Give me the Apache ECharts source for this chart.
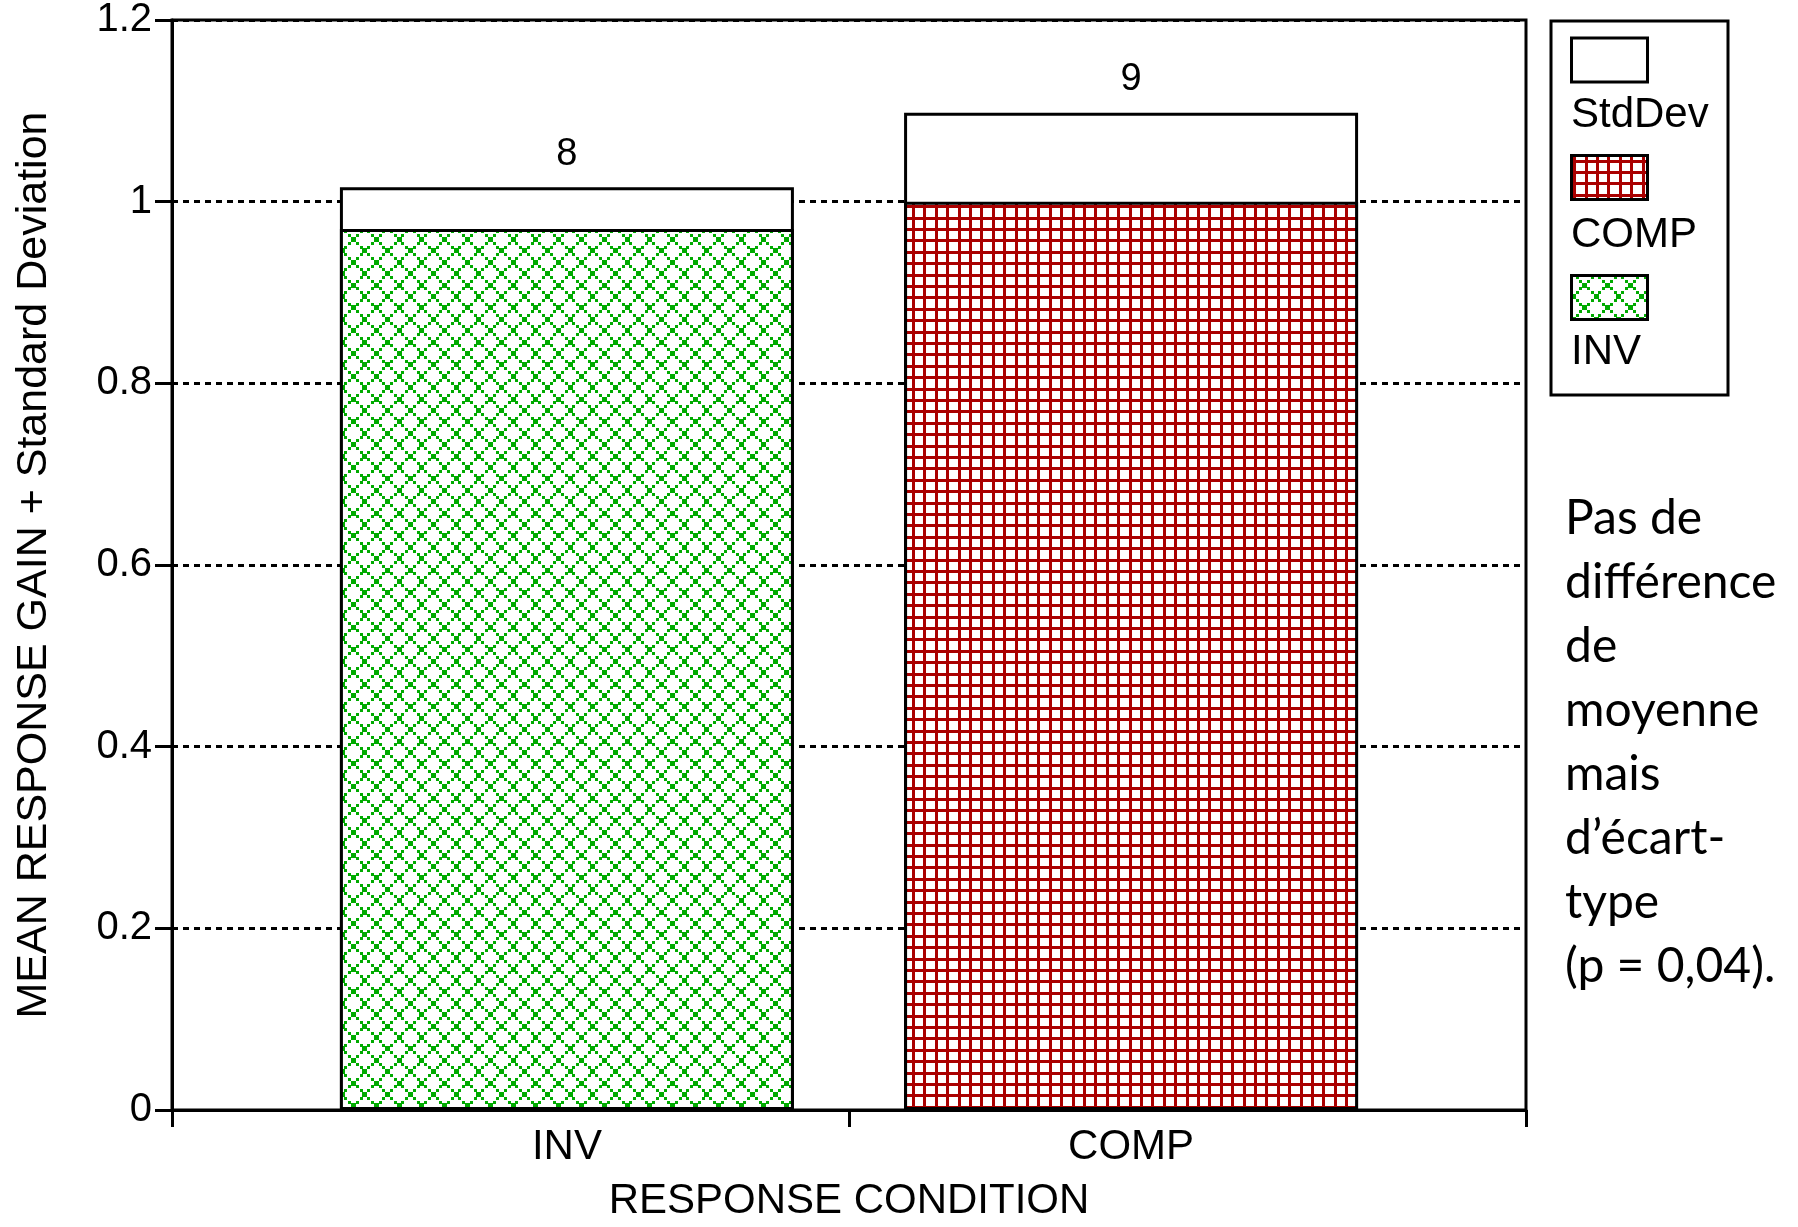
<!DOCTYPE html>
<html>
<head>
<meta charset="utf-8">
<script src="https://cdn.jsdelivr.net/npm/echarts@6/dist/echarts.min.js"></script>
<style>
  html, body { margin: 0; padding: 0; background: #fff; }
  #chart { width: 1798px; height: 1227px; }
</style>
</head>
<body>
<div id="chart"></div>
<script>
// Response conditions and their position on the x scale
const categories = ['INV', 'COMP'];
const categoryPositions = [1, 2];
// Mean response gain and its standard deviation, per condition
const meanGain = [0.97, 1.0];
const stdDev = [0.046, 0.098];
// Number of subjects per condition (printed above each bar)
const sampleSizes = [8, 9];
// Value axis ticks
const yTicks = [0, 0.2, 0.4, 0.6, 0.8, 1, 1.2];
// Ticks along the condition axis (range ends and the divider between conditions)
const xTickPositions = [0.3, 1.5, 2.7];
const legendNames = ['StdDev', 'COMP', 'INV'];
const noteLines = ['Pas de', 'différence', 'de', 'moyenne', 'mais', 'd’écart-', 'type', '(p = 0,04).'];

const CHART_FONT = '"Liberation Sans", Arial, sans-serif';
const RED = '#aa0000';
const GREEN = '#00aa00';

// Square grid hatch (COMP)
function gridPattern(color) {
  const period = 11.4, reps = 5, size = Math.round(period * reps);
  const c = document.createElement('canvas');
  c.width = c.height = size;
  const g = c.getContext('2d');
  g.fillStyle = '#fff';
  g.fillRect(0, 0, size, size);
  g.fillStyle = color;
  for (let i = 0; i < reps; i++) {
    const p = Math.round(i * period);
    g.fillRect(p, 0, 3, size);
    g.fillRect(0, p, size, 3);
  }
  return c;
}

// Dotted diamond lattice (INV)
function latticePattern(color) {
  const period = 22.8, reps = 5, size = Math.round(period * reps);
  const c = document.createElement('canvas');
  c.width = c.height = size;
  const g = c.getContext('2d');
  g.fillStyle = '#fff';
  g.fillRect(0, 0, size, size);
  g.fillStyle = color;
  const half = period / 2;
  for (let i = -2; i <= reps * 2 + 2; i++) {
    for (let j = -2; j <= reps * 2 + 2; j++) {
      if ((i + j) % 2 !== 0) continue;
      const x = i * half, y = j * half;
      g.fillRect(Math.round(x - 2.5), Math.round(y - 2.5), 5, 5);
      for (let k = 1; k <= 2; k++) {
        const d = k * half / 3;
        g.fillRect(Math.round(x + d - 1.5), Math.round(y + d - 1.5), 3, 3);
        g.fillRect(Math.round(x + d - 1.5), Math.round(y - d - 1.5), 3, 3);
      }
    }
  }
  return c;
}

const compFill = { image: gridPattern(RED), repeat: 'repeat' };
const invFill = { image: latticePattern(GREEN), repeat: 'repeat' };
const fills = { StdDev: '#ffffff', COMP: compFill, INV: invFill };

// Mean + one standard deviation: the full height of each outlined column
const meanPlusSd = meanGain.map((m, i) => m + stdDev[i]);

const chart = echarts.init(document.getElementById('chart'), null, { renderer: 'canvas' });

// All columns share one slot per condition; the mean column is drawn over the mean+SD column
const barCommon = {
  type: 'bar',
  barWidth: 454,
  barGap: '-100%',
  animation: false
};

// Legend panel: framed swatches with captions underneath
const legendGraphics = [{
  type: 'rect',
  shape: { x: 1551, y: 21, width: 177, height: 374 },
  style: { fill: '#fff', stroke: '#000', lineWidth: 3 }
}];
const swatchTops = [38, 155.5, 275.5];
const captionCenters = [115, 235, 352.5];
legendNames.forEach((name, i) => {
  legendGraphics.push({
    type: 'rect',
    shape: { x: 1571.5, y: swatchTops[i], width: 76, height: 44 },
    style: { fill: fills[name], stroke: '#000', lineWidth: 3 }
  });
  legendGraphics.push({
    type: 'text',
    x: 1571,
    y: captionCenters[i],
    style: {
      text: name,
      fontFamily: CHART_FONT,
      fontSize: 42,
      fill: '#000',
      verticalAlign: 'middle',
      align: 'left'
    }
  });
});

const option = {
  backgroundColor: '#fff',
  animation: false,
  grid: {
    left: 172,
    right: 272,
    top: 20,
    bottom: 114,
    show: true,
    borderColor: '#000',
    borderWidth: 3,
    backgroundColor: 'transparent'
  },
  xAxis: {
    type: 'value',
    min: xTickPositions[0],
    max: xTickPositions[xTickPositions.length - 1],
    name: 'RESPONSE CONDITION',
    nameLocation: 'middle',
    nameGap: 70,
    nameTextStyle: { fontFamily: CHART_FONT, fontSize: 42, color: '#000' },
    axisLine: { show: true, lineStyle: { color: '#000', width: 3 } },
    axisTick: {
      show: true,
      inside: false,
      length: 17,
      customValues: xTickPositions,
      lineStyle: { color: '#000', width: 3 }
    },
    axisLabel: {
      show: true,
      customValues: categoryPositions,
      margin: 16,
      fontFamily: CHART_FONT,
      fontSize: 42,
      color: '#000',
      formatter: v => categories[categoryPositions.indexOf(v)] || ''
    },
    splitLine: { show: false }
  },
  yAxis: {
    type: 'value',
    min: yTicks[0],
    max: yTicks[yTicks.length - 1],
    interval: yTicks[1] - yTicks[0],
    name: 'MEAN RESPONSE GAIN + Standard Deviation',
    nameLocation: 'middle',
    nameGap: 116,
    nameTextStyle: { fontFamily: CHART_FONT, fontSize: 43, color: '#000' },
    axisLine: { show: true, lineStyle: { color: '#000', width: 3 } },
    axisTick: { show: true, inside: false, length: 17, lineStyle: { color: '#000', width: 3 } },
    axisLabel: {
      margin: 20,
      fontFamily: CHART_FONT,
      fontSize: 40,
      color: '#000',
      formatter: v => String(Math.round(v * 10) / 10)
    },
    splitLine: { show: true, lineStyle: { color: '#000', width: 3, type: [6, 5] } }
  },
  series: [
    Object.assign({}, barCommon, {
      name: 'StdDev',
      data: categoryPositions.map((x, i) => [x, meanPlusSd[i]]),
      itemStyle: { color: '#fff', borderColor: '#000', borderWidth: 3 },
      label: {
        show: true,
        position: 'top',
        distance: 14,
        fontFamily: CHART_FONT,
        fontSize: 38,
        color: '#000',
        formatter: p => String(sampleSizes[p.dataIndex])
      },
      z: 2
    }),
    Object.assign({}, barCommon, {
      name: 'INV',
      data: [[categoryPositions[0], meanGain[0]]],
      itemStyle: { color: invFill, borderColor: '#000', borderWidth: 3 },
      z: 3
    }),
    Object.assign({}, barCommon, {
      name: 'COMP',
      data: [[categoryPositions[1], meanGain[1]]],
      itemStyle: { color: compFill, borderColor: '#000', borderWidth: 3 },
      z: 3
    })
  ],
  graphic: legendGraphics.concat([{
    type: 'text',
    x: 1565,
    y: 487,
    style: {
      text: noteLines.join('\n'),
      fontFamily: 'Lato, "Open Sans", sans-serif',
      fontSize: 48,
      lineHeight: 64,
      fill: '#000',
      align: 'left',
      verticalAlign: 'top'
    }
  }])
};

chart.setOption(option);
</script>
</body>
</html>
